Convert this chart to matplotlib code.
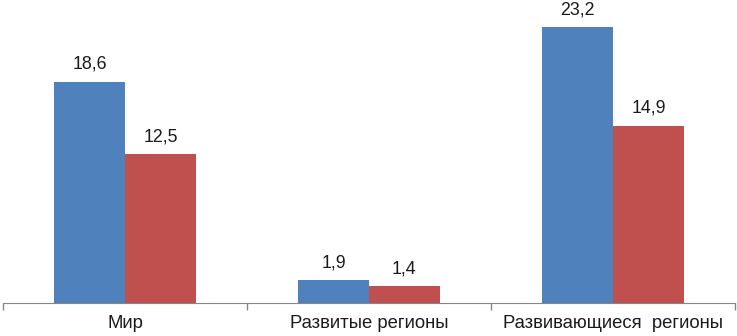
import matplotlib
matplotlib.use("Agg")
import matplotlib.pyplot as plt
import numpy as np

categories = ["Мир", "Развитые регионы", "Развивающиеся  регионы"]
series_a = [18.6, 1.9, 23.2]
series_b = [12.5, 1.4, 14.9]
labels_a = ["18,6", "1,9", "23,2"]
labels_b = ["12,5", "1,4", "14,9"]

plt.rcParams['font.family'] = ['Liberation Sans', 'DejaVu Sans']

fig = plt.figure(figsize=(7.37, 3.36), dpi=100)
ax = fig.add_axes([3/737, 33.3/336, 732/737, 297/336])

x = np.arange(len(categories))
w = 0.29
ba = ax.bar(x - w/2, series_a, w, color="#4F81BD")
bb = ax.bar(x + w/2, series_b, w, color="#C0504D")
for bars, labs in ((ba, labels_a), (bb, labels_b)):
    for r, t in zip(bars, labs):
        ax.annotate(t, (r.get_x() + r.get_width()/2, r.get_height()),
                    xytext=(0, 9), textcoords="offset pixels",
                    ha="center", va="bottom", fontsize=12.8, color="#1a1a1a")

ax.set_xlim(-0.5, 2.5)
ax.set_ylim(0, 25)
ax.set_xticks(x)
ax.set_xticklabels(categories, fontsize=13.3, color="#1a1a1a")
ax.tick_params(axis="x", which="major", length=0, pad=9)
ax.set_xticks([-0.5, 0.5, 1.5, 2.5], minor=True)
ax.tick_params(axis="x", which="minor", length=5, color="#868686", width=1)
ax.set_yticks([])
for s in ("left", "right", "top"):
    ax.spines[s].set_visible(False)
ax.spines["bottom"].set_color("#868686")

fig.savefig("out.png", dpi=100)
